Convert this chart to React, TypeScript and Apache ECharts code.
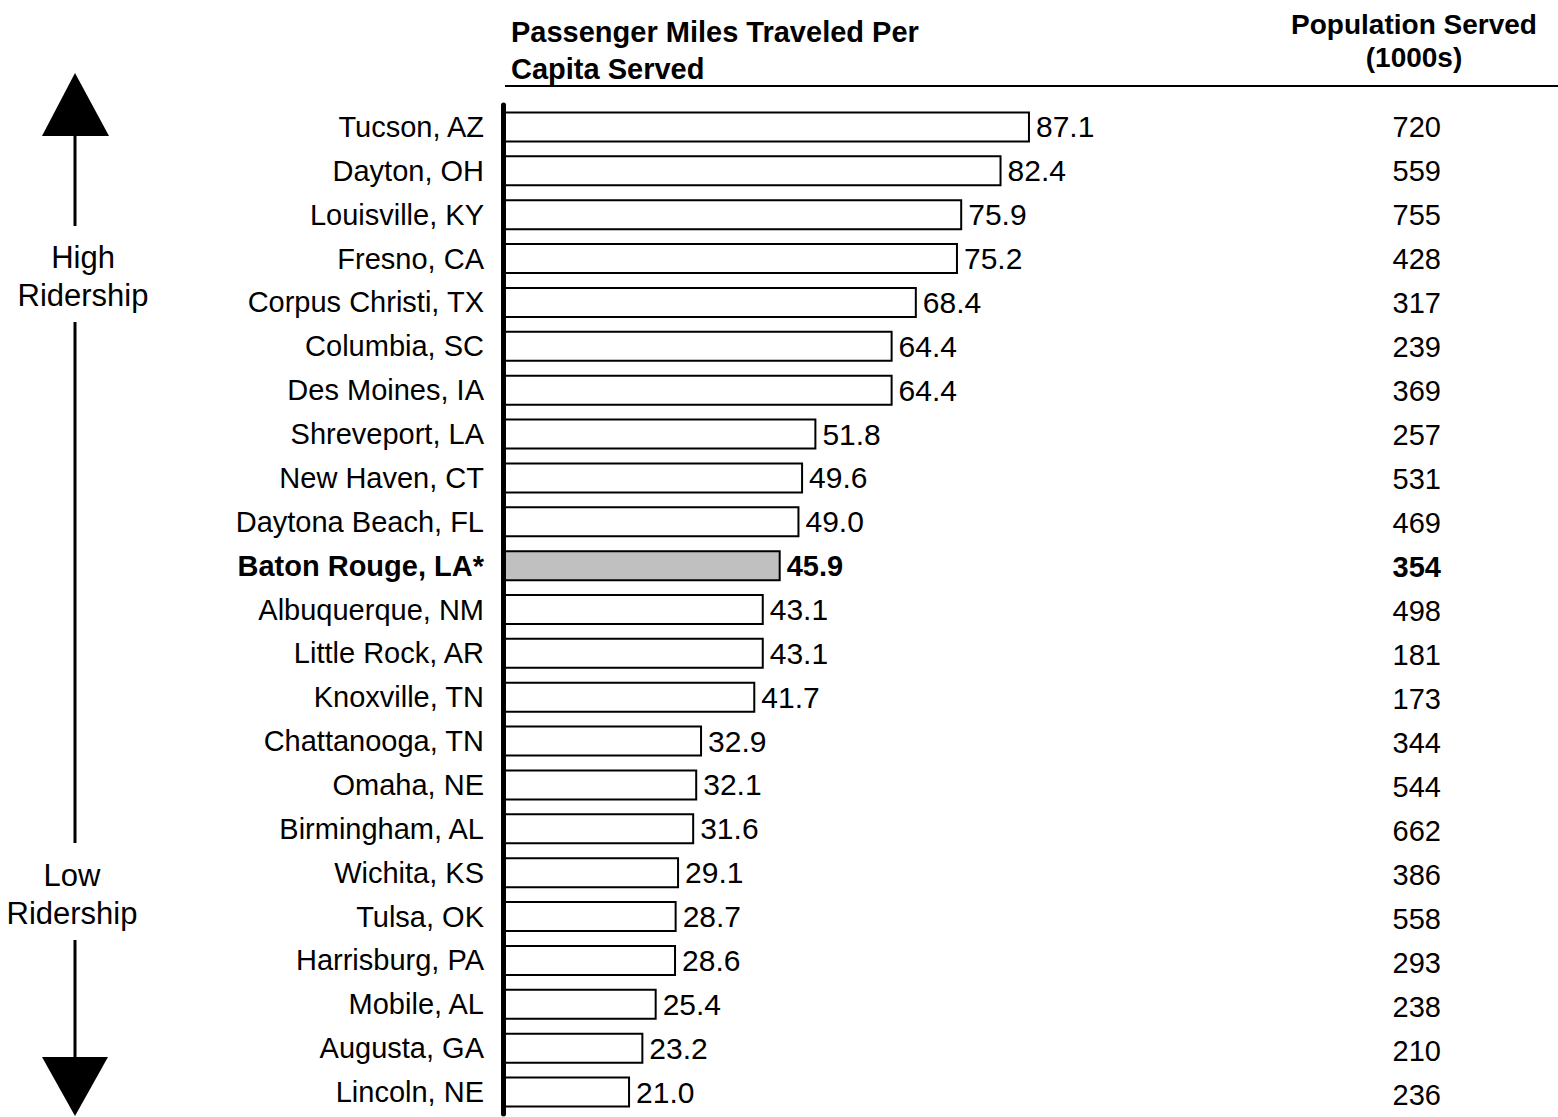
import React, { useEffect, useRef } from "react";
import * as echarts from "echarts";

const CITIES = [
  "Tucson, AZ", "Dayton, OH", "Louisville, KY", "Fresno, CA", "Corpus Christi, TX",
  "Columbia, SC", "Des Moines, IA", "Shreveport, LA", "New Haven, CT", "Daytona Beach, FL",
  "Baton Rouge, LA*", "Albuquerque, NM", "Little Rock, AR", "Knoxville, TN", "Chattanooga, TN",
  "Omaha, NE", "Birmingham, AL", "Wichita, KS", "Tulsa, OK", "Harrisburg, PA",
  "Mobile, AL", "Augusta, GA", "Lincoln, NE",
];
const MILES_PER_CAPITA = [
  87.1, 82.4, 75.9, 75.2, 68.4, 64.4, 64.4, 51.8, 49.6, 49.0,
  45.9, 43.1, 43.1, 41.7, 32.9, 32.1, 31.6, 29.1, 28.7, 28.6,
  25.4, 23.2, 21.0,
];
const POPULATION = [
  720, 559, 755, 428, 317, 239, 369, 257, 531, 469,
  354, 498, 181, 173, 344, 544, 662, 386, 558, 293,
  238, 210, 236,
];
const HIGHLIGHT = "Baton Rouge, LA*";
const TITLE_LEFT = "Passenger Miles Traveled Per\nCapita Served";
const TITLE_RIGHT = "Population Served\n(1000s)";
const HIGH_LABEL = "High\nRidership";
const LOW_LABEL = "Low\nRidership";

const FONT = '"Liberation Sans", Arial, Helvetica, sans-serif';

export default function App() {
  const ref = useRef<HTMLDivElement>(null);

  useEffect(() => {
    if (!ref.current) return;
    const chart = echarts.init(ref.current, null, { renderer: "svg" });
    const hi = CITIES.indexOf(HIGHLIGHT);

    const barData = MILES_PER_CAPITA.map((v, i) =>
      i === hi
        ? { value: v, itemStyle: { color: "#c0c0c0" }, label: { fontWeight: "bold", fontSize: 29 } }
        : { value: v }
    );

    const option: any = {
      animation: false,
      backgroundColor: "#ffffff",
      textStyle: { fontFamily: FONT, color: "#000" },
      grid: [
        { left: 503, top: 105, width: 605, height: 1009 },
        { left: 1441, top: 105, width: 50, height: 1020 },
      ],
      xAxis: [
        { type: "value", gridIndex: 0, min: 0, max: 100, show: false },
        { type: "value", gridIndex: 1, min: 0, max: 1, show: false },
      ],
      yAxis: [
        {
          type: "category",
          gridIndex: 0,
          inverse: true,
          data: CITIES,
          z: 5,
          axisLine: { show: true, lineStyle: { color: "#000", width: 5, cap: "round" } },
          axisTick: { show: false },
          splitLine: { show: false },
          axisLabel: {
            interval: 0,
            margin: 19,
            fontSize: 29,
            color: "#000",
            fontFamily: FONT,
            formatter: (v: string) => (v === HIGHLIGHT ? `{b|${v}}` : v),
            rich: {
              b: { fontWeight: "bold", fontSize: 29, color: "#000", fontFamily: FONT },
            },
          },
        },
        {
          type: "category",
          gridIndex: 1,
          inverse: true,
          position: "left",
          data: POPULATION.map(String),
          axisLine: { show: false },
          axisTick: { show: false },
          splitLine: { show: false },
          axisLabel: {
            interval: 0,
            margin: 0,
            fontSize: 29,
            color: "#000",
            fontFamily: FONT,
            formatter: (v: string, idx: number) => (idx === hi ? `{b|${v}}` : v),
            rich: {
              b: { fontWeight: "bold", fontSize: 29, color: "#000", fontFamily: FONT },
            },
          },
        },
      ],
      series: [
        {
          type: "bar",
          xAxisIndex: 0,
          yAxisIndex: 0,
          data: barData,
          barWidth: 31,
          itemStyle: { color: "#ffffff", borderColor: "#000", borderWidth: 2 },
          label: {
            show: true,
            position: "right",
            distance: 6,
            fontSize: 30,
            color: "#000",
            fontFamily: FONT,
            formatter: (p: any) => Number(p.value).toFixed(1),
          },
        },
      ],
      graphic: [
        {
          type: "text",
          x: 511,
          y: 13,
          style: {
            text: TITLE_LEFT,
            font: `bold 29px ${FONT}`,
            fill: "#000",
            align: "left",
            verticalAlign: "top",
            lineHeight: 37,
          },
        },
        {
          type: "text",
          x: 1414,
          y: 8,
          style: {
            text: TITLE_RIGHT,
            font: `bold 28px ${FONT}`,
            fill: "#000",
            align: "center",
            verticalAlign: "top",
            lineHeight: 33,
          },
        },
        {
          type: "line",
          shape: { x1: 505, y1: 86, x2: 1558, y2: 86 },
          style: { stroke: "#000", lineWidth: 2 },
        },
        {
          type: "polygon",
          shape: { points: [[42, 136], [75, 73], [109, 136]] },
          style: { fill: "#000" },
        },
        {
          type: "line",
          shape: { x1: 75, y1: 136, x2: 75, y2: 226 },
          style: { stroke: "#000", lineWidth: 3 },
        },
        {
          type: "text",
          x: 83,
          y: 276,
          style: {
            text: HIGH_LABEL,
            font: `31px ${FONT}`,
            fill: "#000",
            align: "center",
            verticalAlign: "middle",
            lineHeight: 38,
          },
        },
        {
          type: "line",
          shape: { x1: 75, y1: 322, x2: 75, y2: 843 },
          style: { stroke: "#000", lineWidth: 3 },
        },
        {
          type: "text",
          x: 72,
          y: 894,
          style: {
            text: LOW_LABEL,
            font: `31px ${FONT}`,
            fill: "#000",
            align: "center",
            verticalAlign: "middle",
            lineHeight: 38,
          },
        },
        {
          type: "line",
          shape: { x1: 75, y1: 940, x2: 75, y2: 1057 },
          style: { stroke: "#000", lineWidth: 3 },
        },
        {
          type: "polygon",
          shape: { points: [[42, 1057], [75, 1116], [108, 1057]] },
          style: { fill: "#000" },
        },
      ],
    };

    chart.setOption(option);
    return () => chart.dispose();
  }, []);

  return (
    <div
      ref={ref}
      style={{ position: "absolute", left: 0, top: 0, width: 1558, height: 1117, background: "#fff" }}
    />
  );
}
